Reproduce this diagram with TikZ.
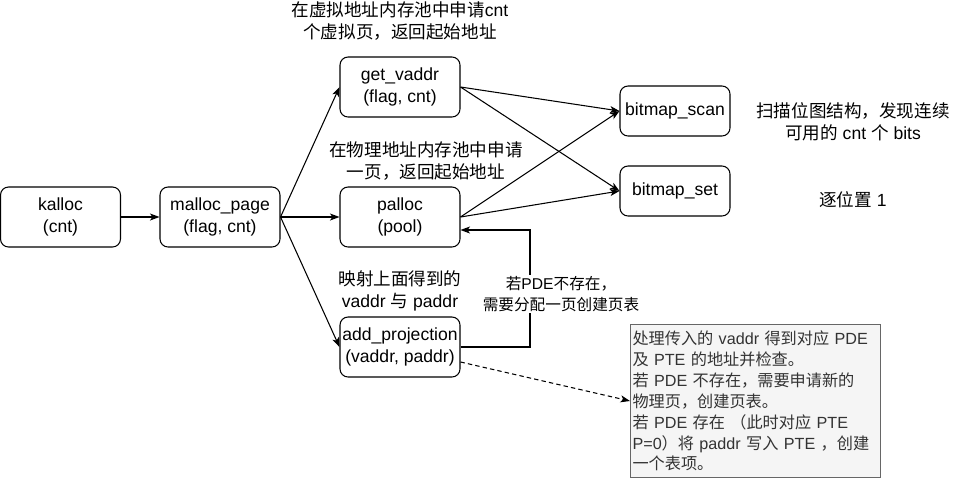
\documentclass[tikz,border=0pt]{standalone}
\usepackage{fontspec}
\setmainfont{Liberation Sans}
\newfontfamily\cjk{Noto Sans CJK SC}
\usepackage{tikz}
\usetikzlibrary{arrows.meta, positioning, calc}

\definecolor{notefill}{HTML}{F5F5F5}
\definecolor{noteline}{HTML}{666666}
\definecolor{notetext}{HTML}{333333}

\begin{document}
\begin{tikzpicture}[x=0.02cm, y=-0.02cm, line width=0.6pt,
    func/.style={draw, rounded corners=0.16cm, minimum width=2.4cm, minimum height=1.2cm,
        align=center, inner sep=0pt, font=\fontsize{10}{13}\selectfont},
    bit/.style={func, minimum width=2.2cm, minimum height=1cm},
    lbl/.style={align=center, inner sep=1pt, font=\fontsize{10}{12.5}\selectfont},
    note/.style={draw=noteline, fill=notefill, text=notetext, minimum width=5cm, minimum height=3cm,
        text width=4.92cm, inner xsep=0.04cm, align=left, font=\fontsize{9.2}{11.9}\selectfont},
    arr/.style={-{Stealth[length=0.19cm, width=0.14cm, inset=0.05cm]}}]
\useasboundingbox (0,0) rectangle (957,477);

% Call chain
\node[func] (ka) at (60.5,217) {kalloc\\(cnt)};
\node[func] (mp) at (220,217) {malloc\_page\\(flag, cnt)};
\node[func] (gv) at (400,87) {get\_vaddr\\(flag, cnt)};
\node[func] (pa) at (400,217) {palloc\\(pool)};
\node[func] (ap) at (400,347) {add\_projection\\(vaddr, paddr)};
\node[bit] (bs) at (675,111) {bitmap\_scan};
\node[bit] (bt) at (675,191) {bitmap\_set};

% Notes
\node[lbl] (vlbl) at (400,21) {{\cjk 在虚拟地址内存池中申请}cnt\\{\cjk 个虚拟页，返回起始地址}};
\node[lbl] (plbl) at (426,161) {{\cjk 在物理地址内存池中申请}\\{\cjk 一页，返回起始地址}};
\node[lbl] (mlbl) at (400,291) {{\cjk 映射上面得到的}\\vaddr {\cjk 与} paddr};
\node[lbl] (slbl) at (853,122) {{\cjk 扫描位图结构，发现连续}\\{\cjk 可用的} cnt {\cjk 个} bits};
\node[lbl] (tlbl) at (853,200) {{\cjk 逐位置} 1};
\node[note] (nt) at (755.5,401) {{\cjk 处理传入的} vaddr {\cjk 得到对应} PDE\\
{\cjk 及} PTE {\cjk 的地址并检查。}\\
{\cjk 若} PDE {\cjk 不存在，需要申请新的}\\
{\cjk 物理页，创建页表。}\\
{\cjk 若} PDE {\cjk 存在 （此时对应} PTE\\
P=0{\cjk ）将} paddr {\cjk 写入} PTE {\cjk ，创建}\\
{\cjk 一个表项。}};

% Arrows
\draw[arr] (ka) -- (mp);
\draw[arr] (mp.east) -- (gv.west);
\draw[arr] (mp.east) -- (pa.west);
\draw[arr] (mp.east) -- (ap.west);
\draw[arr] (gv.east) -- (bs.west);
\draw[arr] (gv.east) -- (bt.west);
\draw[arr] (pa.east) -- (bs.west);
\draw[arr] (pa.east) -- (bt.west);

% Back to palloc when PDE is missing
\coordinate (fb) at (530,290);
\draw[arr] (ap.east) -| (fb) |- ([yshift=-0.26cm]pa.east);
\node[lbl, fill=white, font=\fontsize{8.9}{11.5}\selectfont] (flbl) at (561,294)
    {{\cjk 若}PDE{\cjk 不存在，}\\{\cjk 需要分配一页创建页表}};

\draw[arr, dash pattern=on 2.5pt off 1.8pt] ([yshift=-0.3cm]ap.east) -- (nt.west);
\end{tikzpicture}
\end{document}
